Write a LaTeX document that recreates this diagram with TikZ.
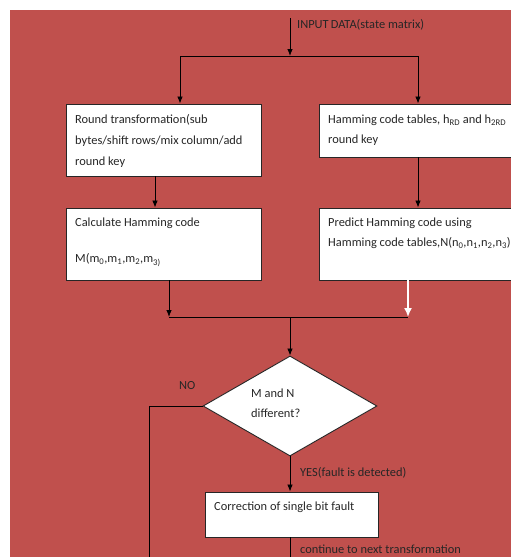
\documentclass[tikz,border=0pt]{standalone}
\usepackage{fontspec}
\setmainfont{Carlito}
\usetikzlibrary{shapes.geometric,arrows.meta}
\definecolor{bgred}{HTML}{C0504D}
\definecolor{txt}{HTML}{262626}
\tikzset{
  box/.style={draw=txt, line width=0.9pt, fill=white, rectangle, inner sep=0pt},
  lbl/.style={anchor=west, inner sep=0pt, text=txt, font=\fontsize{12.4}{14}\selectfont},
  conn/.style={draw=black, line width=0.8pt},
  arr/.style={conn, -{Latex[length=7pt,width=5.5pt]}},
  warr/.style={draw=white, line width=1.6pt, -{Latex[length=9pt,width=8pt]}},
}
\begin{document}
\begin{tikzpicture}[x=1pt,y=-1pt]
\useasboundingbox (0,0) rectangle (511,557);
\clip (0,0) rectangle (511,557);
\fill[bgred] (10,10) rectangle (520,570);

% boxes
\node[box, minimum width=195pt, minimum height=72pt] (b1) at (163.5,140) {};
\node[box, minimum width=195pt, minimum height=72pt] (b2) at (163.5,244) {};
\node[box, minimum width=194pt, minimum height=53pt] (r1) at (416,130.5) {};
\node[box, minimum width=194pt, minimum height=72pt] (r2) at (416,244) {};
\node[box, diamond, aspect=1.74, minimum width=174pt, minimum height=100pt] (d) at (290,406) {};
\node[box, minimum width=173pt, minimum height=45pt] (c) at (291.5,514.5) {};

% texts
\node[lbl] (tin) at (297,25) {INPUT\,DATA(state matrix)};
\node[lbl] (tb1a) at (75,120) {Round transformation(sub};
\node[lbl] (tb1b) at (75,141) {bytes/shift rows/mix column/add};
\node[lbl] (tb1c) at (75,162) {round key};
\node[lbl] (tb2a) at (75,223) {Calculate Hamming code};
\node[lbl] (tb2b) at (75,260) {M(m\textsubscript{0},m\textsubscript{1},m\textsubscript{2},m\textsubscript{3)}};
\node[lbl] (tr1a) at (328,120) {Hamming code tables, h\textsubscript{RD} and h\textsubscript{2RD}};
\node[lbl] (tr1b) at (328,140) {round key};
\node[lbl] (tr2a) at (328,223) {Predict Hamming code using};
\node[lbl] (tr2b) at (328,243) {Hamming code tables,N(n\textsubscript{0},n\textsubscript{1},n\textsubscript{2},n\textsubscript{3})};
\node[lbl] (tda) at (251,393) {M and N};
\node[lbl] (tdb) at (251,413) {different?};
\node[lbl] (tno) at (179,386) {NO};
\node[lbl] (tyes) at (300,473) {YES(fault is detected)};
\node[lbl] (tc) at (214,507) {Correction of single bit fault};
\node[lbl] (tcont) at (300,549) {continue to next transformation};

% connector points
\coordinate (in0) at (290,18);
\coordinate (sp) at (290,56);
\coordinate (spl) at (180,56);
\coordinate (spr) at (418,56);
\coordinate (jl) at (169,317);
\coordinate (jr) at (408,317);
\coordinate (jm) at (290,317);
\coordinate (nol) at (149,406);
\coordinate (nob) at (149,560);
\coordinate (cb) at (290,560);

% connectors
\draw[arr] (in0) -- (sp);
\draw[conn] (spl) -- (spr);
\draw[arr] (spl) -- (spl |- b1.north);
\draw[arr] (spr) -- (spr |- r1.north);
\draw[arr] (b1.south -| 155,0) -- (b2.north -| 155,0);
\draw[arr] (r1.south -| 418,0) -- (r2.north -| 418,0);
\draw[arr] (b2.south -| jl) -- (jl);
\draw[warr] (r2.south -| jr) -- (jr);
\draw[conn] (jl) -- (jr);
\draw[arr] (jm) -- (d.north);
\draw[conn] (d.west) -- (nol) -- (nob);
\draw[arr] (d.south) -- (d.south |- c.north);
\draw[conn] (c.south -| cb) -- (cb);
\end{tikzpicture}
\end{document}
